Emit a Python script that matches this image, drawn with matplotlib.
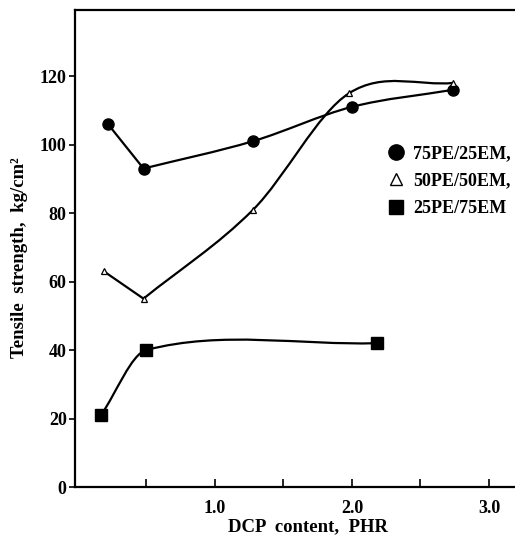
import numpy as np
import matplotlib
matplotlib.use("Agg")
import matplotlib.pyplot as plt
from matplotlib.path import Path
from matplotlib.patches import PathPatch
from matplotlib.lines import Line2D

plt.rcParams['font.family'] = ['Liberation Serif', 'DejaVu Serif']
plt.rcParams['font.weight'] = 'bold'
plt.rcParams['axes.labelweight'] = 'bold'

# data (DCP content in PHR, tensile strength in kg/cm2)
labels = ['75PE/25EM,', '50PE/50EM,', '25PE/75EM']
x_7525 = [0.22, 0.48, 1.28, 2.0, 2.74]
y_7525 = [106, 93, 101, 111, 116]
x_5050 = [0.19, 0.48, 1.28, 1.98, 2.74]
y_5050 = [63, 55, 81, 115, 118]
x_2575 = [0.17, 0.5, 2.18]
y_2575 = [21, 40, 42]

x_ticks = [1.0, 2.0, 3.0]
x_tick_labels = ['1.0', '2.0', '3.0']
x_minor = [0.5, 1.5, 2.5]
y_ticks = [0, 20, 40, 60, 80, 100, 120]


def smooth_path(xs, ys, corner=0):
    """Straight segments up to `corner`, then a cubic Hermite curve y(x)."""
    xs = np.asarray(xs, float)
    ys = np.asarray(ys, float)
    verts = [(xs[0], ys[0])]
    codes = [Path.MOVETO]
    for i in range(corner):
        verts.append((xs[i + 1], ys[i + 1]))
        codes.append(Path.LINETO)
    cx, cy = xs[corner:], ys[corner:]
    h = np.diff(cx)
    d = np.diff(cy) / h
    m = np.empty(len(cx))
    m[0], m[-1] = d[0], d[-1]
    for i in range(1, len(cx) - 1):
        m[i] = (h[i - 1] * d[i - 1] + h[i] * d[i]) / (h[i - 1] + h[i])
    for i in range(len(cx) - 1):
        verts += [(cx[i] + h[i] / 3, cy[i] + m[i] * h[i] / 3),
                  (cx[i + 1] - h[i] / 3, cy[i + 1] - m[i + 1] * h[i] / 3),
                  (cx[i + 1], cy[i + 1])]
        codes += [Path.CURVE4] * 3
    return Path(verts, codes)


fig = plt.figure(figsize=(5.15, 5.45), dpi=100)
ax = fig.add_axes([0.1456, 0.1064, 0.8544, 0.8753])

series = [
    (x_7525, y_7525, 1, dict(marker='o', ms=8, mfc='black', mec='black')),
    (x_5050, y_5050, 1, dict(marker='^', ms=4.5, mfc='white', mec='black', mew=0.9)),
    (x_2575, y_2575, 0, dict(marker='s', ms=8, mfc='black', mec='black')),
]
for xs, ys, corner, mk in series:
    ax.add_patch(PathPatch(smooth_path(xs, ys, corner), fill=False,
                           edgecolor='black', lw=1.6, zorder=2))
    ax.plot(xs, ys, ls='none', zorder=3, **mk)

ax.set_xlim(-0.02, 3.19)
ax.set_ylim(0, 139.3)
ax.spines['right'].set_visible(False)
for s in ['left', 'bottom', 'top']:
    ax.spines[s].set_linewidth(1.6)

ax.set_xticks(x_ticks)
ax.set_xticklabels(x_tick_labels)
ax.set_xticks(x_minor, minor=True)
ax.set_yticks(y_ticks)
ax.tick_params(axis='x', which='both', direction='in', length=6, width=1.2,
               pad=9, labelsize=13, top=False)
ax.tick_params(axis='y', which='both', direction='out', length=4, width=1.2,
               pad=2, labelsize=13, right=False)

ax.set_xlabel('DCP  content,  PHR', fontsize=13.5)
ax.set_ylabel('Tensile  strength,  kg/cm²', fontsize=13.5)
ax.xaxis.set_label_coords(0.53, -0.065)
ax.yaxis.set_label_coords(-0.107, 0.48)

handles = [
    Line2D([], [], ls='none', marker='o', ms=11, mfc='black', mec='black'),
    Line2D([], [], ls='none', marker='^', ms=9, mfc='white', mec='black', mew=1.0),
    Line2D([], [], ls='none', marker='s', ms=10, mfc='black', mec='black'),
]
ax.legend(handles, labels, loc='center left', bbox_to_anchor=(0.689, 0.641),
          frameon=False, fontsize=13, handlelength=1.0, handletextpad=0.45,
          labelspacing=0.58, borderpad=0)

fig.savefig('out.png', dpi=100)
